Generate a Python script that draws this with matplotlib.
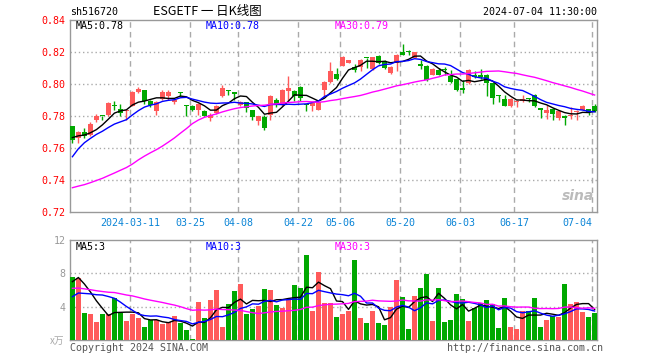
import numpy as np
import pandas as pd
import matplotlib
matplotlib.use("Agg")
import matplotlib.pyplot as plt

plt.rcParams['font.family'] = ['DejaVu Sans Mono', 'Noto Sans CJK SC']

# daily bars 2024-02-26 .. 2024-07-04 (88 sessions)
opens = [0.7735, 0.7660, 0.7700, 0.7680, 0.7777, 0.7800, 0.7808, 0.7865, 0.7844, 0.7830,
         0.7865, 0.7948, 0.7965, 0.7896, 0.7829, 0.7906, 0.7925, 0.7890, 0.7946, 0.7865,
         0.7865, 0.7835, 0.7829, 0.7790, 0.7819, 0.7925, 0.7958, 0.7944, 0.7870, 0.7885,
         0.7835, 0.7767, 0.7794, 0.7808, 0.7898, 0.7870, 0.7956, 0.7958, 0.7981, 0.7870,
         0.7862, 0.7838, 0.7962, 0.8012, 0.8065, 0.8115, 0.8133, 0.8106, 0.8106, 0.8163,
         0.8096, 0.8177, 0.8142, 0.8069, 0.8131, 0.8202, 0.8200, 0.8163, 0.8127, 0.8115,
         0.8058, 0.8085, 0.8090, 0.8048, 0.8031, 0.7967, 0.8004, 0.8056, 0.8058, 0.8058,
         0.8006, 0.7929, 0.7908, 0.7862, 0.7885, 0.7894, 0.7910, 0.7933, 0.7844, 0.7819,
         0.7846, 0.7788, 0.7802, 0.7798, 0.7827, 0.7838, 0.7844, 0.7865]
highs = [0.7740, 0.7705, 0.7725, 0.7760, 0.7810, 0.7802, 0.7885, 0.7895, 0.7877, 0.7837,
         0.7958, 0.7980, 0.7965, 0.7900, 0.7892, 0.7960, 0.7960, 0.7910, 0.7948, 0.7866,
         0.7871, 0.7881, 0.7840, 0.7819, 0.7871, 0.7996, 0.7960, 0.7946, 0.7895, 0.7888,
         0.7838, 0.7802, 0.7808, 0.7930, 0.7912, 0.7968, 0.8048, 0.7960, 0.7985, 0.7872,
         0.7885, 0.7890, 0.8019, 0.8135, 0.8100, 0.8177, 0.8150, 0.8127, 0.8156, 0.8165,
         0.8167, 0.8183, 0.8148, 0.8110, 0.8190, 0.8252, 0.8215, 0.8202, 0.8152, 0.8117,
         0.8098, 0.8100, 0.8106, 0.8085, 0.8033, 0.8027, 0.8092, 0.8081, 0.8092, 0.8060,
         0.8008, 0.7931, 0.7929, 0.7910, 0.7902, 0.7929, 0.7912, 0.7935, 0.7846, 0.7871,
         0.7848, 0.7831, 0.7804, 0.7858, 0.7840, 0.7867, 0.7846, 0.7877]
lows = [0.7630, 0.7630, 0.7665, 0.7675, 0.7760, 0.7775, 0.7800, 0.7840, 0.7802, 0.7773,
        0.7860, 0.7944, 0.7877, 0.7856, 0.7808, 0.7898, 0.7902, 0.7875, 0.7925, 0.7798,
        0.7829, 0.7808, 0.7798, 0.7767, 0.7815, 0.7920, 0.7933, 0.7902, 0.7860, 0.7827,
        0.7773, 0.7746, 0.7710, 0.7773, 0.7856, 0.7865, 0.7894, 0.7894, 0.7895, 0.7829,
        0.7829, 0.7835, 0.7925, 0.8008, 0.8027, 0.8110, 0.8130, 0.8073, 0.8079, 0.8100,
        0.8090, 0.8127, 0.8094, 0.8065, 0.8079, 0.8183, 0.8183, 0.8160, 0.8094, 0.8017,
        0.8055, 0.8054, 0.8054, 0.8006, 0.7956, 0.7944, 0.7998, 0.8038, 0.8031, 0.7927,
        0.7877, 0.7890, 0.7860, 0.7858, 0.7858, 0.7885, 0.7888, 0.7856, 0.7788, 0.7781,
        0.7773, 0.7773, 0.7746, 0.7779, 0.7773, 0.7835, 0.7808, 0.7827]
closes = [0.7650, 0.7700, 0.7675, 0.7750, 0.7800, 0.7798, 0.7880, 0.7862, 0.7819, 0.7835,
          0.7948, 0.7969, 0.7896, 0.7870, 0.7885, 0.7948, 0.7948, 0.7900, 0.7942, 0.7862,
          0.7835, 0.7877, 0.7802, 0.7806, 0.7865, 0.7975, 0.7955, 0.7940, 0.7890, 0.7848,
          0.7794, 0.7798, 0.7725, 0.7927, 0.7871, 0.7965, 0.7977, 0.7923, 0.7912, 0.7867,
          0.7879, 0.7887, 0.8012, 0.8081, 0.8031, 0.8167, 0.8148, 0.8085, 0.8152, 0.8160,
          0.8167, 0.8131, 0.8100, 0.8106, 0.8183, 0.8183, 0.8198, 0.8200, 0.8110, 0.8027,
          0.8096, 0.8058, 0.8087, 0.8010, 0.7965, 0.7965, 0.8085, 0.8046, 0.8044, 0.8006,
          0.7912, 0.7927, 0.7865, 0.7908, 0.7890, 0.7908, 0.7908, 0.7860, 0.7840, 0.7835,
          0.7815, 0.7829, 0.7788, 0.7802, 0.7830, 0.7865, 0.7823, 0.7830]
volumes = [7.6, 7.4, 3.28, 3.08, 2.15, 3.08, 3.08, 5.08, 3.2, 2.28,
           3.08, 2.68, 1.6, 2.4, 2.4, 1.88, 2.12, 2.92, 2.0, 1.2,
           0.12, 4.52, 2.68, 4.8, 6.0, 1.6, 4.32, 5.88, 6.72, 3.12,
           3.72, 4.12, 6.12, 6.0, 4.2, 3.8, 4.8, 6.6, 6.28, 10.2,
           3.48, 8.16, 4.48, 4.48, 2.8, 3.12, 3.48, 9.6, 2.68, 2.08,
           3.48, 2.08, 1.8, 4.0, 7.2, 5.2, 1.32, 5.28, 6.28, 7.92,
           2.28, 6.28, 2.2, 2.4, 5.52, 4.92, 2.28, 3.88, 4.4, 4.8,
           4.32, 1.48, 5.08, 1.6, 1.32, 3.48, 3.48, 5.08, 1.6, 2.4,
           2.92, 2.8, 6.72, 4.32, 4.6, 3.4, 2.8, 3.2]

# 29 sessions before the window, only needed for the moving averages
pre_closes = [0.740, 0.740, 0.738, 0.739, 0.739, 0.738, 0.737, 0.730, 0.733, 0.729,
              0.718, 0.720, 0.724, 0.730, 0.728, 0.720, 0.712, 0.705, 0.700, 0.690,
              0.720, 0.730, 0.748, 0.755, 0.760, 0.7645, 0.765, 0.768, 0.770]
pre_volumes = [6.5, 6.0, 6.2, 5.8, 6.0, 5.6, 6.2, 7.5, 6.8, 6.4,
               8.0, 7.2, 6.9, 6.5, 6.0, 7.0, 7.4, 7.8, 8.2, 6.0,
               3.0, 3.8, 3.6, 3.2, 3.4, 4.9, 7.2, 7.8, 7.5]

tick_pos = [10, 20, 28, 38, 45, 55, 65, 74, 87]
tick_labels = ["2024-03-11", "03-25", "04-08", "04-22", "05-06",
               "05-20", "06-03", "06-17", "07-04"]
price_ticks = [0.72, 0.74, 0.76, 0.78, 0.80, 0.82, 0.84]
vol_ticks = [4, 8, 12]

RED = "#ff5a5a"
GREEN = "#00a800"
GRID = "#aaaaaa"
SPINE = "#999999"
DATE_BLUE = "#0a84d6"
MA_COLORS = ["black", "#0000ff", "#ff00ff"]

n = len(closes)
x = np.arange(n)
o = np.array(opens); h = np.array(highs); l = np.array(lows); c = np.array(closes)
up = c >= o
cols = np.where(up, RED, GREEN)

cs = pd.Series(pre_closes + closes)
vs = pd.Series(pre_volumes + volumes)
k = len(pre_closes)
pma = [cs.rolling(w).mean().to_numpy()[k:] for w in (5, 10, 30)]
vma = [vs.rolling(w).mean().to_numpy()[k:] for w in (5, 10, 30)]

fig = plt.figure(figsize=(6.6, 3.6), dpi=100)
axP = fig.add_axes([70/660, 1-212/360, 527/660, 192/360])
axV = fig.add_axes([70/660, 1-340/360, 527/660, 100/360])

# price panel
axP.vlines(x, l, h, colors=cols, lw=1, zorder=3)
body = np.maximum(np.abs(c - o), 0.0007)
axP.bar(x, body, bottom=np.minimum(o, c), width=0.8, color=cols, lw=0, zorder=3)
for ma, col in zip(pma, MA_COLORS):
    axP.plot(x, ma, color=col, lw=1, zorder=4)

axP.set_xlim(-0.4, n - 0.6)
axP.set_ylim(0.72, 0.84)
for yv in price_ticks[1:-1]:
    axP.axhline(yv, color=GRID, lw=1, ls=(0, (1, 2)), zorder=1)
for xp in tick_pos:
    axP.axvline(xp - 0.4, color=GRID, lw=1, ls=(0, (4, 3)), zorder=1)
    axV.axvline(xp - 0.4, color=GRID, lw=1, ls=(0, (4, 3)), zorder=1)

axP.set_yticks(price_ticks)
axP.set_yticklabels([f"{t:.2f}" for t in price_ticks], color="red", fontsize=7.2)
axP.set_xticks([p - 0.4 for p in tick_pos])
axP.set_xticklabels(tick_labels, color=DATE_BLUE, fontsize=7.2)
axP.get_xticklabels()[-1].set_ha("right")
axP.tick_params(length=0, pad=3)
axP.tick_params(axis="x", pad=4)

axP.text(0.01, 0.969, f"MA5:{pma[0][-1]:.2f}", transform=axP.transAxes,
         color=MA_COLORS[0], fontsize=7.2, va="center")
axP.text(0.257, 0.969, f"MA10:{pma[1][-1]:.2f}", transform=axP.transAxes,
         color=MA_COLORS[1], fontsize=7.2, va="center")
axP.text(0.503, 0.969, f"MA30:{pma[2][-1]:.2f}", transform=axP.transAxes,
         color=MA_COLORS[2], fontsize=7.2, va="center")
axP.text(0.995, 0.045, "sina", transform=axP.transAxes, ha="right", va="bottom",
         color="#bbbbbb", fontsize=10, style="italic", weight="bold",
         family="DejaVu Sans")

# volume panel
axV.bar(x, volumes, width=0.8, color=cols, lw=0, zorder=3)
for ma, col in zip(vma, MA_COLORS):
    axV.plot(x, ma, color=col, lw=1, zorder=4)
axV.set_xlim(-0.4, n - 0.6)
axV.set_ylim(0, 12)
for yv in (4, 8):
    axV.axhline(yv, color=GRID, lw=1, ls=(0, (1, 2)), zorder=1)
axV.set_yticks(vol_ticks)
axV.set_yticklabels([str(t) for t in vol_ticks], color="#999999", fontsize=7.2)
axV.set_xticks([])
axV.tick_params(length=0, pad=3)
axV.text(0.01, 0.933, f"MA5:{int(vma[0][-1])}", transform=axV.transAxes,
         color=MA_COLORS[0], fontsize=7.2, va="center")
axV.text(0.257, 0.933, f"MA10:{int(vma[1][-1])}", transform=axV.transAxes,
         color=MA_COLORS[1], fontsize=7.2, va="center")
axV.text(0.503, 0.933, f"MA30:{int(vma[2][-1])}", transform=axV.transAxes,
         color=MA_COLORS[2], fontsize=7.2, va="center")

for ax in (axP, axV):
    for s in ax.spines.values():
        s.set_color(SPINE)
        s.set_linewidth(1)

# header / footer
fig.text(70/660, 1-12/360, "sh516720", ha="left", va="center", fontsize=7.2)
fig.text(207/660, 1-12/360, "ESGETF 一 日K线图", ha="center", va="center",
         fontsize=9, family=["Noto Sans CJK SC", "DejaVu Sans"])
fig.text(597/660, 1-12/360, "2024-07-04 11:30:00", ha="right", va="center", fontsize=7.2)
fig.text(64/660, 1-341/360, "x万", ha="right", va="center", fontsize=7,
         color="#aaaaaa", family=["Noto Sans CJK SC", "DejaVu Sans"])
fig.text(70/660, 1-348/360, "Copyright 2024 SINA.COM", ha="left", va="center",
         fontsize=7.2, color="#555555")
fig.text(603/660, 1-348/360, "http://finance.sina.com.cn", ha="right", va="center",
         fontsize=7.2, color="#555555")

fig.savefig("out.png", dpi=100)
